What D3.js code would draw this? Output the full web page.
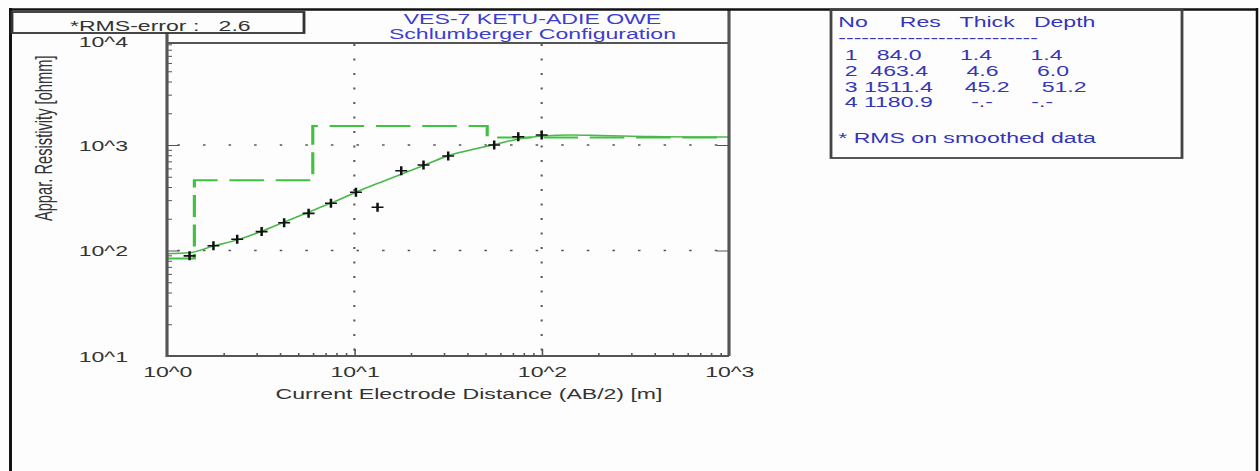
<!DOCTYPE html>
<html>
<head>
<meta charset="utf-8">
<script src="https://cdn.jsdelivr.net/npm/d3@7"></script>
<style>
body { margin: 0; background: #fff; }
svg { display: block; }
text { font-family: "Liberation Sans", Arial, sans-serif; }
</style>
</head>
<body>
<svg id="chart"></svg>
<script>
// measured sounding: AB/2 [m] and apparent resistivity [ohmm]
var abMeasured = [1.32, 1.77, 2.37, 3.2, 4.22, 5.7, 7.5, 10.2, 13.3, 17.8, 23.4, 31.7, 55.8, 75, 100];
var rhoMeasured = [89, 111, 128, 151, 183, 225, 280, 356, 257, 570, 646, 787, 1000, 1199, 1245];
// calculated curve of the fitted model
var abCurve = [1, 1.31, 1.76, 2.37, 3.22, 4.22, 5.75, 7.53, 10.25, 13.7, 17.6, 23.7, 31.4, 41.7, 56.1, 75.3, 101, 143, 207, 383, 1000];
var rhoCurve = [93, 95, 110, 126, 153, 186, 232, 282, 358, 441, 525, 646, 787, 897, 1011, 1140, 1217, 1245, 1232, 1205, 1191];
// layer table
var layerNo = ["1", "2", "3", "4"];
var layerRes = ["84.0", "463.4", "1511.4", "1180.9"];
var layerThick = ["1.4", "4.6", "45.2", "-.-"];
var layerDepth = ["1.4", "6.0", "51.2", "-.-"];
var xTicks = [1, 10, 100, 1000];
var yTicks = [10, 100, 1000, 10000];
var rmsError = "2.6";
var titleLines = ["VES-7 KETU-ADIE OWE", "Schlumberger Configuration"];

var W = 1260, H = 471;
// the picture is stretched sideways, so work in narrow units and let the viewBox stretch
var K = 1.57;
var px = v => v / K;
var plotL = 167, plotR = 729, plotT = 43, plotB = 356;
var blue = "#3535b8", dark = "#333";
var fs = 14.7;

var svg = d3.select("#chart")
        .attr("width", W).attr("height", H)
        .attr("viewBox", "0 0 " + px(W) + " " + H)
        .attr("preserveAspectRatio", "none");

svg.append("rect").attr("x", 0).attr("y", 0)
        .attr("width", px(W)).attr("height", H).attr("fill", "#fdfdfd");

var x = d3.scaleLog().domain([1, 1000]).range([px(plotL), px(plotR)]);
var y = d3.scaleLog().domain([10, 10000]).range([plotB, 39.5]);
var pow = d => "10^" + Math.round(Math.log10(d));

//grid
var grid = svg.append("g").attr("stroke", "#555").attr("fill", "none");
[100, 1000].forEach(v => {
        grid.append("line")
                .attr("x1", px(plotL)).attr("x2", px(plotR))
                .attr("y1", y(v)).attr("y2", y(v))
                .attr("stroke-width", 1.6)
                .attr("stroke-dasharray", "1.6,14.7").attr("stroke-dashoffset", 9.7);
});
[10, 100].forEach(v => {
        grid.append("line")
                .attr("x1", x(v)).attr("x2", x(v))
                .attr("y1", plotT).attr("y2", plotB)
                .attr("stroke-width", 1.3)
                .attr("stroke-dasharray", "2,12.5").attr("stroke-dashoffset", -1);
});

// model steps from the layer table
var stepPts = [];
var layerTop = 1;
layerRes.forEach((r, i) => {
        var layerBottom = layerDepth[i] == "-.-" ? 1000 : +layerDepth[i];
        stepPts.push([layerTop, +r], [layerBottom, +r]);
        layerTop = layerBottom;
});
var line = d3.line().x(d => x(d[0])).y(d => y(d[1]));
svg.append("path").datum(stepPts)
        .attr("d", line).attr("fill", "none")
        .attr("stroke", "#3fc23f").attr("stroke-width", 2)
        .attr("stroke-dasharray", "22,7.5");

// calculated curve
var curveLine = d3.line().x(d => x(d[0])).y(d => y(d[1])).curve(d3.curveMonotoneX);
svg.append("path").datum(abCurve.map((d, i) => [d, rhoCurve[i]]))
        .attr("d", curveLine).attr("fill", "none")
        .attr("stroke", "#4cb84c").attr("stroke-width", 1.5);

// measured points as crosses
svg.append("g").selectAll("path")
        .data(abMeasured.map((d, i) => [d, rhoMeasured[i]]))
        .enter().append("path")
        .attr("d", d => "M" + (x(d[0]) - 3.8) + "," + y(d[1]) + "h7.6M" + x(d[0]) + "," + (y(d[1]) - 4.5) + "v9")
        .attr("stroke", "#111").attr("stroke-width", 1.6).attr("fill", "none");

// minor and major ticks
function minors(lo, hi) {
        var out = [];
        for (var e = lo; e < hi; e++)
                for (var m = 2; m < 10; m++) out.push(m * Math.pow(10, e));
        return out;
}
var tickCol = "#555";
svg.append("g").attr("transform", "translate(" + px(plotL) + ",0)").attr("color", tickCol)
        .call(d3.axisLeft(y).tickValues(minors(1, 4)).tickFormat("").tickSize(-px(5)))
        .call(g => g.select(".domain").remove());
svg.append("g").attr("transform", "translate(" + px(plotL) + ",0)").attr("color", tickCol)
        .call(d3.axisLeft(y).tickValues([100, 1000]).tickFormat("").tickSize(-px(12)))
        .call(g => g.select(".domain").remove());
svg.append("g").attr("transform", "translate(" + px(plotR) + ",0)").attr("color", tickCol)
        .call(d3.axisRight(y).tickValues([100, 1000]).tickFormat("").tickSize(-px(12)))
        .call(g => g.select(".domain").remove());
svg.append("g").attr("transform", "translate(0," + plotB + ")").attr("color", tickCol)
        .call(d3.axisBottom(x).tickValues(minors(0, 3)).tickFormat("").tickSize(-3))
        .call(g => g.select(".domain").remove());
svg.append("g").attr("transform", "translate(0," + plotB + ")").attr("color", tickCol)
        .call(d3.axisBottom(x).tickValues([10, 100]).tickFormat("").tickSize(-7))
        .call(g => g.select(".domain").remove());

// tick labels
svg.append("g").attr("transform", "translate(" + px(plotL) + ",0)")
        .call(d3.axisLeft(y).tickValues(yTicks).tickFormat(pow).tickSize(0).tickPadding(px(39)))
        .call(g => g.select(".domain").remove())
        .call(g => g.selectAll("text").attr("fill", dark).attr("font-size", fs)
                .attr("font-family", "Liberation Sans, Arial, sans-serif")
                .attr("dy", d => d == 10000 ? "0.45em" : "0.35em"));
svg.append("g").attr("transform", "translate(0," + plotB + ")")
        .call(d3.axisBottom(x).tickValues(xTicks).tickFormat(pow).tickSize(0).tickPadding(10.6))
        .call(g => g.select(".domain").remove())
        .call(g => g.selectAll("text").attr("fill", dark).attr("font-size", fs)
                .attr("font-family", "Liberation Sans, Arial, sans-serif"));

// frame
var frame = svg.append("g").attr("stroke", "#555").attr("stroke-width", 2).attr("fill", "none");
frame.append("path").attr("d",
        "M" + px(plotL) + ",33V" + plotB + "H" + px(plotR) +
        "M" + px(plotL) + "," + plotT + "H" + px(plotR) +
        "M" + px(plotR) + ",10V" + plotB);

// outer border
svg.append("line").attr("x1", px(9)).attr("x2", px(1258)).attr("y1", 9.5).attr("y2", 9.5)
        .attr("stroke", "#111").attr("stroke-width", 2.6);
svg.append("line").attr("x1", px(10.5)).attr("x2", px(10.5)).attr("y1", 8).attr("y2", H)
        .attr("stroke", "#111").attr("stroke-width", 1.9);
svg.append("line").attr("x1", px(1257)).attr("x2", px(1257)).attr("y1", 8).attr("y2", H)
        .attr("stroke", "#111").attr("stroke-width", 1.6);

// rms box
svg.append("rect").attr("x", px(12)).attr("y", 12).attr("width", px(292)).attr("height", 21)
        .attr("fill", "none").attr("stroke", dark).attr("stroke-width", 1.8);
svg.append("text").attr("x", px(70)).attr("y", 31)
        .attr("xml:space", "preserve")
        .attr("font-size", fs).attr("fill", dark)
        .text("*RMS-error :   " + rmsError);

// title
titleLines.forEach((t, i) => {
        svg.append("text").attr("x", px(532.5)).attr("y", 24.5 + i * 15)
                .attr("text-anchor", "middle").attr("font-size", fs).attr("fill", "#3d3dcf")
                .text(t);
});

// axis titles
svg.append("text").attr("x", px(469)).attr("y", 399.5)
        .attr("text-anchor", "middle").attr("font-size", fs).attr("fill", dark)
        .text("Current Electrode Distance (AB/2) [m]");
svg.append("text")
        .attr("transform", "translate(" + px(51.7) + ",138.3) rotate(-90)")
        .attr("text-anchor", "middle").attr("font-size", fs).attr("fill", dark)
        .text("Appar. Resistivity [ohmm]");

// layer table
svg.append("rect").attr("x", px(831)).attr("y", 10).attr("width", px(351)).attr("height", 148)
        .attr("fill", "none").attr("stroke", "#444").attr("stroke-width", 1.8);
var table = svg.append("g").attr("font-size", fs).attr("fill", blue);
function row(yPos, str) {
        return table.append("text").attr("x", px(838.3)).attr("y", yPos)
                .attr("xml:space", "preserve").text(str);
}
row(27, "No     Res   Thick   Depth");
row(43.5, "-".repeat(26));
var rowY = [60.5, 76, 92, 107.5];
layerNo.forEach((n, i) => {
        row(rowY[i], " " + n + " " + layerRes[i].padStart(6) + "     " +
                layerThick[i].padStart(4) + "     " + layerDepth[i].padStart(4));
});
row(142.7, "* RMS on smoothed data");
</script>
</body>
</html>
